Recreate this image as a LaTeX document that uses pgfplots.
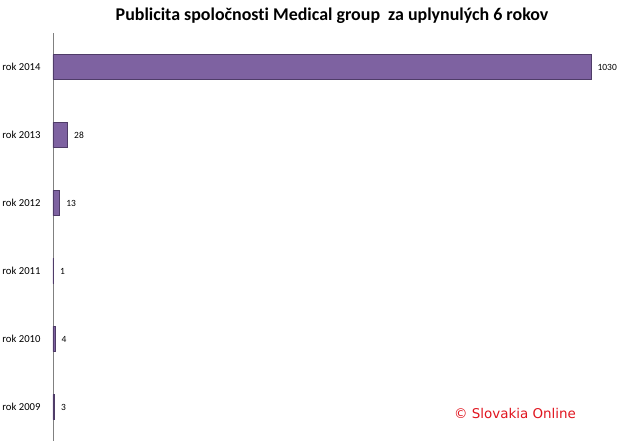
\documentclass[border=0pt]{standalone}
\usepackage{pgfplots}
\pgfplotsset{compat=1.18}
\usepackage{fontspec}
\setmainfont{Carlito}[Ligatures=NoCommon]
\newfontfamily\cpfont{DejaVu Sans}
\definecolor{barfill}{HTML}{7E62A1}
\definecolor{bardark}{HTML}{4F3C68}
\definecolor{cpred}{HTML}{E0141E}

\begin{document}
\begin{tikzpicture}
\path[use as bounding box] (-53bp,0) rectangle (567bp,441bp);
\begin{axis}[
  scale only axis,
  width=538bp, height=408bp,
  xmin=0, xmax=1030,
  ymin=-0.5, ymax=5.5,
  xbar,
  bar width=25bp,
  axis x line=none,
  axis y line*=left,
  axis line style={draw=gray, line width=0.8pt},
  ytick={0,1,2,3,4,5},
  yticklabels={rok 2009, rok 2010, rok 2011, rok 2012, rok 2013, rok 2014},
  major tick length=0pt,
  yticklabel style={font=\fontsize{10.7}{12}\selectfont, xshift=-9bp},
  /pgf/number format/assume math mode=true,
  /pgf/number format/1000 sep={},
  nodes near coords,
  every node near coord/.append style={font=\fontsize{9.5}{10}\selectfont, xshift=3bp},
  clip=false,
]
\addplot[draw=bardark, line width=0.6pt, fill=barfill]
  coordinates {(3,0) (4,1) (1,2) (13,3) (28,4) (1030,5)};
\end{axis}
\node[font=\fontsize{18}{20}\selectfont\bfseries] at (279bp,425bp) {Publicita spoločnosti Medical group\ \ za uplynulých 6 rokov};
\node[font=\cpfont\fontsize{13.5}{15}\selectfont, text=cpred] at (462bp,28bp) {© Slovakia Online};
\end{tikzpicture}
\end{document}
